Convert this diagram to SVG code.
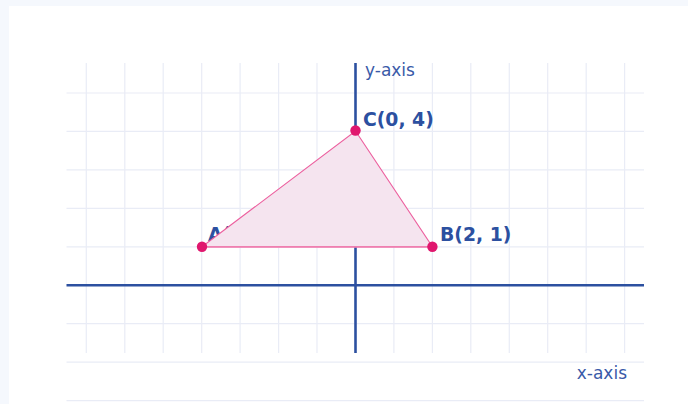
<svg xmlns="http://www.w3.org/2000/svg" width="688" height="404" viewBox="0 0 688 404">
  <style>
    .grid line { stroke: #e9ecf6; stroke-width: 1.2; }
    .axis { stroke: #2c50a0; stroke-width: 2.6; }
    .axlbl { font-family: "DejaVu Sans", sans-serif; font-size: 17px; fill: #3a5aa8; }
    .ptlbl { font-family: "DejaVu Sans", sans-serif; font-size: 18.8px; font-weight: bold; fill: #2c50a0; }
    .pt { fill: #e0176e; }
  </style>
  <rect x="0" y="0" width="688" height="404" fill="#f5f8fd"/>
  <rect x="9" y="6" width="679" height="398" fill="#ffffff"/>
  <g id="grid" class="grid">
    <line x1="86.3" y1="63" x2="86.3" y2="353"/>
    <line x1="124.8" y1="63" x2="124.8" y2="353"/>
    <line x1="163.2" y1="63" x2="163.2" y2="353"/>
    <line x1="201.7" y1="63" x2="201.7" y2="353"/>
    <line x1="240.1" y1="63" x2="240.1" y2="353"/>
    <line x1="278.6" y1="63" x2="278.6" y2="353"/>
    <line x1="317.0" y1="63" x2="317.0" y2="353"/>
    <line x1="393.9" y1="63" x2="393.9" y2="353"/>
    <line x1="432.4" y1="63" x2="432.4" y2="353"/>
    <line x1="470.8" y1="63" x2="470.8" y2="353"/>
    <line x1="509.3" y1="63" x2="509.3" y2="353"/>
    <line x1="547.7" y1="63" x2="547.7" y2="353"/>
    <line x1="586.2" y1="63" x2="586.2" y2="353"/>
    <line x1="624.6" y1="63" x2="624.6" y2="353"/>
    <line x1="66.5" y1="93" x2="644" y2="93"/>
    <line x1="66.5" y1="131.4" x2="644" y2="131.4"/>
    <line x1="66.5" y1="169.9" x2="644" y2="169.9"/>
    <line x1="66.5" y1="208.3" x2="644" y2="208.3"/>
    <line x1="66.5" y1="246.8" x2="644" y2="246.8"/>
    <line x1="66.5" y1="323.7" x2="644" y2="323.7"/>
    <line x1="66.5" y1="362.2" x2="644" y2="362.2"/>
    <line x1="66.5" y1="400.6" x2="644" y2="400.6"/>
  </g>
  <g id="axes">
    <line class="axis" x1="66.5" y1="285.3" x2="644" y2="285.3"/>
    <line class="axis" x1="355.5" y1="63" x2="355.5" y2="353"/>
    <text class="axlbl" x="365" y="76">y-axis</text>
    <text class="axlbl" x="627" y="378.5" text-anchor="end">x-axis</text>
  </g>
  <g id="labels">
    <text id="label-A" class="ptlbl" x="208" y="241">A(-4, 1)</text>
  </g>
  <g id="triangle">
    <polygon points="202,246.8 355.5,131 432.4,246.8" fill="#f5e4ef" stroke="#ec5f9e" stroke-width="1.1"/>
    <line x1="202" y1="246.8" x2="432.4" y2="246.8" stroke="#ef7fb0" stroke-width="1.8"/>
  </g>
  <g id="point-A"><circle class="pt" cx="202" cy="246.8" r="5.2"/></g>
  <g id="point-B">
    <circle class="pt" cx="432.4" cy="246.8" r="5.2"/>
    <text class="ptlbl" x="440" y="241">B(2, 1)</text>
  </g>
  <g id="point-C">
    <circle class="pt" cx="355.5" cy="130.5" r="5.2"/>
    <text class="ptlbl" x="363" y="125.5">C(0, 4)</text>
  </g>
</svg>
